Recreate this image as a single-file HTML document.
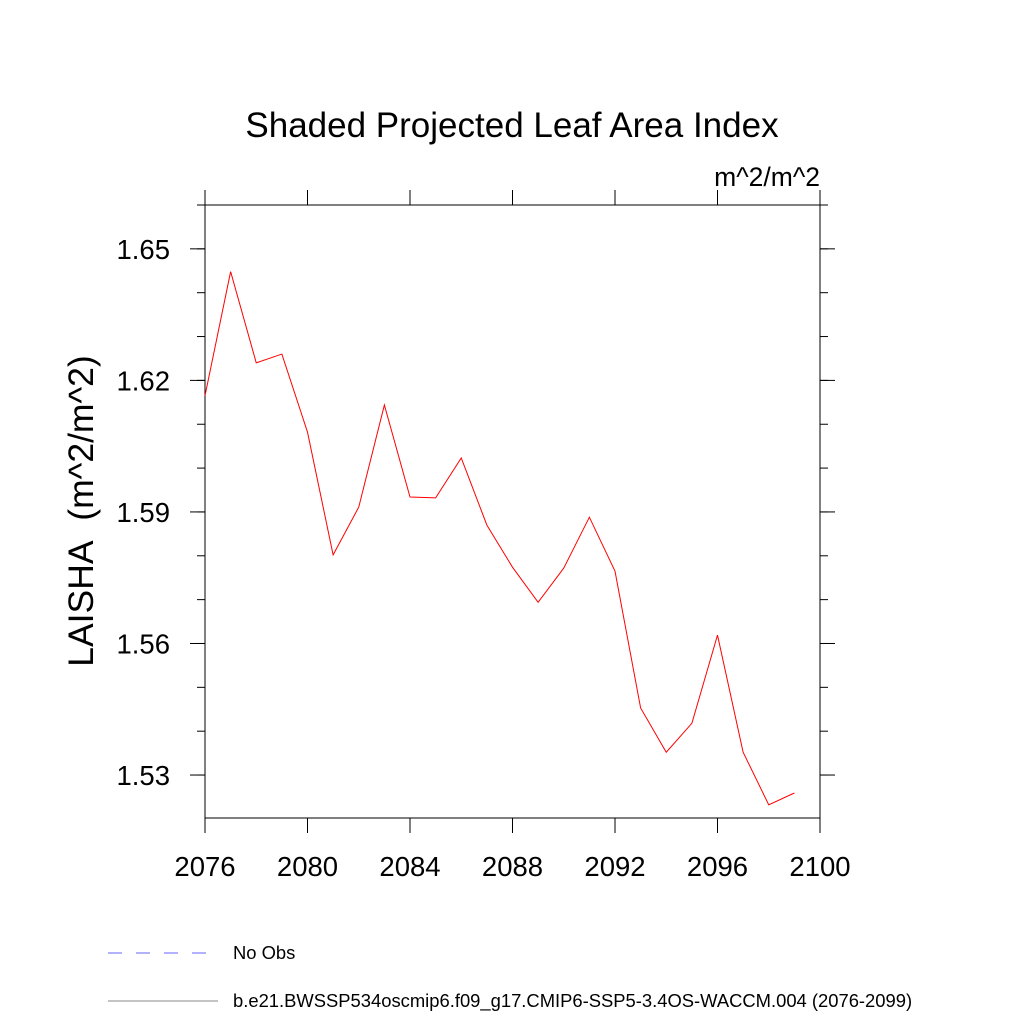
<!DOCTYPE html>
<html><head><meta charset="utf-8"><style>body{margin:0;background:#fff}svg{display:block}</style></head>
<body>
<svg id="chart" width="1024" height="1024" xmlns="http://www.w3.org/2000/svg" font-family="'Liberation Sans', sans-serif">
<text x="512" y="137" font-size="35" text-anchor="middle">Shaded Projected Leaf Area Index</text>
<text x="820" y="186" font-size="26.5" text-anchor="end">m^2/m^2</text>
<text transform="translate(93,511) rotate(-90)" font-size="35.5" text-anchor="middle">LAISHA&#160;&#160;(m^2/m^2)</text>
<rect x="205" y="205" width="615" height="613" fill="none" stroke="#000" stroke-width="1"/>
<g id="axes"></g>
<polyline id="series" fill="none" stroke="#ff0000" stroke-width="1"/>
<line x1="108" y1="953" x2="218" y2="953" stroke="#6666ff" stroke-dasharray="14,14"/>
<text x="233" y="959" font-size="18.4">No Obs</text>
<line x1="108" y1="1001" x2="218" y2="1001" stroke="#888"/>
<text x="233" y="1007" font-size="18.4">b.e21.BWSSP534oscmip6.f09_g17.CMIP6-SSP5-3.4OS-WACCM.004 (2076-2099)</text>
</svg>
<script>
const years = [2076,2077,2078,2079,2080,2081,2082,2083,2084,2085,2086,2087,2088,2089,2090,2091,2092,2093,2094,2095,2096,2097,2098,2099];
const values = [1.6165,1.6448,1.624,1.626,1.6082,1.5802,1.5911,1.6144,1.5934,1.5932,1.6023,1.587,1.5774,1.5694,1.5772,1.5888,1.5765,1.5453,1.5352,1.5418,1.5619,1.5352,1.5232,1.5259];
const xTicks = [2076,2080,2084,2088,2092,2096,2100];
const yTicks = [1.53,1.56,1.59,1.62,1.65];
const yMinor = [1.53,1.54,1.55,1.56,1.57,1.58,1.59,1.60,1.61,1.62,1.63,1.64,1.65,1.66];
const X0=205,X1=820,Y0=818,Y1=205,xmin=2076,xmax=2100,ymin=1.5202,ymax=1.66;
const xs=v=>X0+(v-xmin)/(xmax-xmin)*(X1-X0);
const ys=v=>Y0-(v-ymin)/(ymax-ymin)*(Y0-Y1);
const NS='http://www.w3.org/2000/svg';
const g=document.getElementById('axes');
function ln(x1,y1,x2,y2,name){const l=document.createElementNS(NS,'line');l.setAttribute('x1',x1);l.setAttribute('y1',y1);l.setAttribute('x2',x2);l.setAttribute('y2',y2);l.setAttribute('stroke','#000');


g.appendChild(l);}
function tx(x,y,s,anchor,name){const t=document.createElementNS(NS,'text');t.setAttribute('x',x);t.setAttribute('y',y);t.setAttribute('font-size','27.5');t.setAttribute('text-anchor',anchor);t.textContent=s;


g.appendChild(t);}
xTicks.forEach(v=>{const x=xs(v);ln(x,Y0,x,Y0+15,'x-tick');ln(x,Y1,x,Y1-15,'x-tick-top');tx(x,876,String(v),'middle','x-tick-label');});
yMinor.forEach(v=>{const y=ys(v);ln(X0,y,X0-8,y,'y-minor-tick');ln(X1,y,X1+8,y,'y-minor-tick-right');});
yTicks.forEach(v=>{const y=ys(v);ln(X0,y,X0-15,y,'y-tick');ln(X1,y,X1+15,y,'y-tick-right');tx(170,y+10,v.toFixed(2),'end','y-tick-label');});
document.getElementById('series').setAttribute('points',years.map((y,i)=>xs(y)+','+ys(values[i])).join(' '));
</script>
</body></html>
